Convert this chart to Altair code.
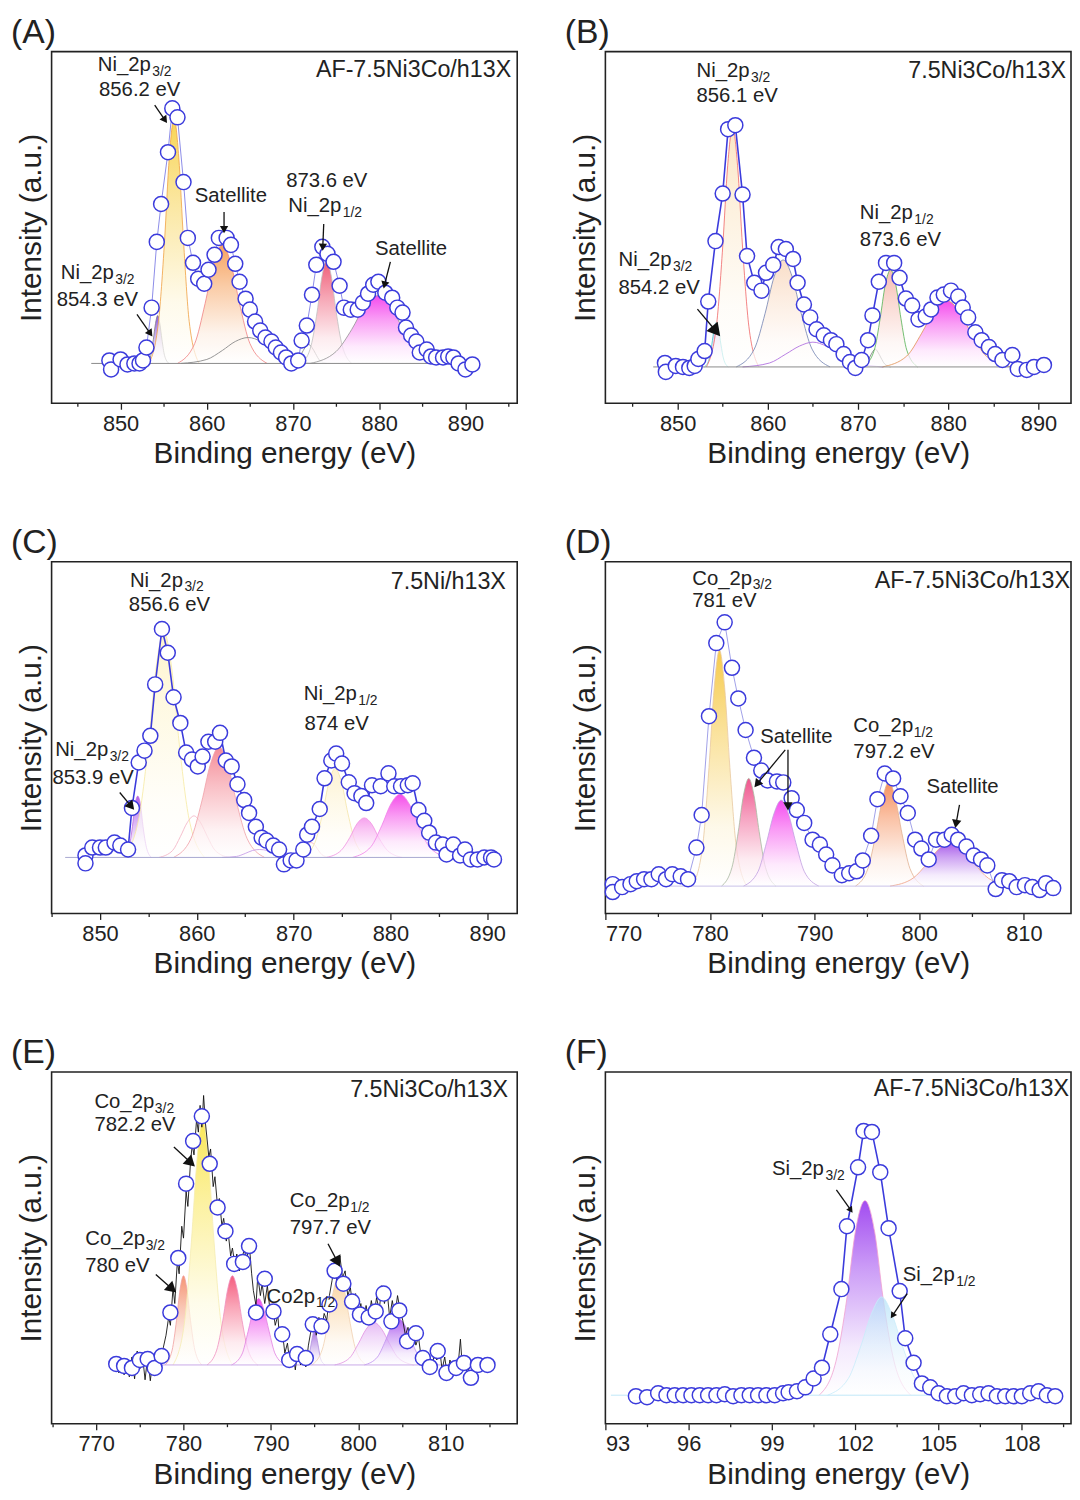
import altair as alt
import pandas as pd

FONT = "Liberation Sans"
BLUE = "#3b3bdc"

# ---------------- Panel A : AF-7.5Ni3Co/h13X, Ni 2p ----------------
A_x = [848.7, 848.9, 850.0, 850.8, 851.6, 852.2, 852.6, 853.0, 853.6, 854.2, 854.7, 855.5, 856.0, 856.6,
       857.3, 857.8, 858.4, 859.0, 859.7, 860.2, 860.9, 861.4, 862.3, 862.8, 863.3, 863.8, 864.5, 865.0,
       865.6, 866.2, 866.8, 867.5, 868.0, 868.6, 869.2, 869.8, 870.6, 871.0, 871.6, 872.2, 872.7, 873.4,
       874.0, 874.7, 875.4, 875.9, 876.7, 877.5, 878.1, 878.7, 879.3, 879.9, 880.7, 881.5, 882.1, 882.7,
       883.1, 883.7, 884.3, 884.7, 885.5, 886.0, 886.6, 887.4, 888.0, 888.6, 889.2, 890.0, 890.8]
A_y = [3, -6, 4, -1, 0, 0, 3, 16, 56, 122, 160, 212, 256, 247, 182, 126, 101, 85, 80, 94, 109, 126, 126,
       119, 100, 82, 65, 54, 42, 33, 26, 22, 16, 11, 6, 0, 3, 23, 38, 69, 99, 117, 110, 102, 78, 56, 54, 54,
       61, 70, 79, 82, 71, 66, 56, 51, 36, 28, 22, 11, 14, 7, 6, 6, 7, 6, 0, -6, -1]
A_peaks = [
    ([853.0, 853.5, 853.8, 854.05, 854.3, 854.55, 854.8, 855.1, 855.6], [0, 8, 24, 40, 48, 40, 24, 8, 0], "#5b0fd6", "#808080"),
    ([853.3, 854.4, 855.1, 855.65, 856.2, 856.75, 857.3, 857.96, 859.1], [0, 42, 123, 207, 246, 207, 123, 42, 0], "#f4c20d", "#f0a040"),
    ([856.6, 858.6, 859.8, 860.8, 861.8, 862.8, 863.8, 865.0, 867.0], [0, 20, 60, 100, 119, 100, 60, 20, 0], "#f27a1a", "#f08080"),
    ([857.0, 860.0, 861.8, 863.3, 864.8, 866.3, 867.8, 869.6, 872.6], [0, 4, 13, 22, 26, 22, 13, 4, 0], None, "#8a8a8a"),
    ([869.7, 870.5, 871.0, 871.4, 871.8, 872.2, 872.6, 873.1, 873.9], [0, 3, 10, 16, 19, 16, 10, 3, 0], None, "#8a8a8a"),
    ([871.0, 872.1, 872.8, 873.35, 873.9, 874.45, 875.0, 875.7, 876.8], [0, 18, 52, 87, 103, 87, 52, 18, 0], "#e8163c", "#c0c0c0"),
    ([872.0, 875.0, 876.8, 878.3, 879.8, 881.3, 882.8, 884.6, 887.6], [0, 12, 34, 57, 68, 57, 34, 12, 0], "#f000e6", "#909090"),
]
A_ticks = [845, 850, 855, 860, 865, 870, 875, 880, 885, 890, 895]
A_labels = [(847.35, 299.3, "Ni_2p", "3/2"), (847.5, 274.3, "856.2 eV", None), (858.6, 168.3, "Satellite", None),
            (869.2, 182.7, "873.6 eV", None), (869.45, 157.7, "Ni_2p", "1/2"), (879.5, 114.3, "Satellite", None),
            (843.07, 91.0, "Ni_2p", "3/2"), (842.6, 63.3, "854.3 eV", None)]
A_arrows = [(853.96, 259.3, 855.15, 244.3, 145), (851.9, 49.3, 853.45, 30.0, 145), (862.0, 152.0, 862.0, 134.3, 180),
            (873.56, 140.0, 873.45, 116.7, 182), (881.29, 102.0, 880.61, 78.7, 194)]

# ---------------- Panel B : 7.5Ni3Co/h13X, Ni 2p ----------------
B_x = [848.6, 848.7, 849.8, 850.6, 851.3, 851.9, 852.3, 853.0, 853.4, 854.2, 855.0, 855.6, 856.4, 857.2,
       857.7, 858.5, 859.3, 859.8, 860.6, 861.2, 862.0, 862.8, 863.3, 864.0, 864.7, 865.4, 866.2, 867.0,
       867.6, 868.4, 869.1, 869.7, 870.4, 871.1, 871.6, 872.3, 873.1, 874.0, 874.6, 875.3, 876.0, 876.7,
       877.5, 878.1, 878.8, 879.5, 880.3, 881.1, 881.6, 882.2, 883.0, 883.7, 884.5, 885.2, 886.0, 887.1,
       887.7, 888.7, 889.5, 890.6]
B_y = [4, -5, 1, 0, -1, 1, 8, 16, 66, 127, 175, 240, 244, 174, 112, 85, 77, 95, 103, 121, 119, 109, 85, 63,
       50, 38, 32, 27, 23, 13, 5, -1, 7, 27, 52, 86, 105, 105, 90, 69, 62, 48, 51, 58, 70, 73, 77, 71, 60, 50,
       35, 27, 20, 13, 7, 12, -2, -3, 0, 2]
B_peaks = [
    ([853.0, 853.5, 853.8, 854.05, 854.3, 854.55, 854.8, 855.1, 855.6], [0, 8, 23, 38, 45, 38, 23, 8, 0], "#b58ae8", "#40c8c8"),
    ([853.2, 854.3, 855.0, 855.55, 856.1, 856.65, 857.2, 857.9, 859.0], [0, 41, 121, 203, 242, 203, 121, 41, 0], "#f9dcae", "#f06464"),
    ([856.5, 858.5, 859.7, 860.7, 861.7, 862.7, 863.7, 864.9, 866.9], [0, 18, 54, 91, 108, 91, 54, 18, 0], "#f7d0b0", "#7080b0"),
    ([857.2, 860.2, 862.0, 863.5, 865.0, 866.5, 868.0, 869.8, 872.8], [0, 4, 13, 21, 25, 21, 13, 4, 0], None, "#b070e0"),
    ([870.2, 870.9, 871.25, 871.6, 871.9, 872.2, 872.55, 872.95, 873.6], [0, 3, 9, 15, 18, 15, 9, 3, 0], None, "#808080"),
    ([870.6, 871.8, 872.45, 873.0, 873.6, 874.2, 874.75, 875.4, 876.6], [0, 17, 49, 82, 98, 82, 49, 17, 0], "#f2a090", "#50b050"),
    ([872.7, 875.4, 877.05, 878.4, 879.8, 881.2, 882.55, 884.2, 887.0], [0, 11, 34, 56, 67, 56, 34, 11, 0], "#f000e6", "#e09050"),
]
B_ticks = [845, 850, 855, 860, 865, 870, 875, 880, 885, 890]
B_labels = [(852.1, 298.3, "Ni_2p", "3/2"), (852.1, 273.3, "856.1 eV", None), (870.2, 155.0, "Ni_2p", "1/2"),
            (870.2, 128.3, "873.6 eV", None), (843.45, 108.3, "Ni_2p", "3/2"), (843.45, 80.0, "854.2 eV", None)]
B_arrows = [(852.2, 58.3, 854.27, 36.0, 140)]

# ---------------- Panel C : 7.5Ni/h13X, Ni 2p ----------------
C_x = [848.5, 848.5, 849.2, 850.0, 850.6, 851.5, 852.1, 852.9, 853.3, 854.0, 854.6, 855.2, 855.7, 856.4,
       857.0, 857.6, 858.3, 858.9, 859.5, 860.1, 860.6, 861.2, 861.9, 862.4, 863.0, 863.6, 864.2, 864.9,
       865.4, 866.1, 866.7, 867.2, 867.9, 868.5, 869.0, 869.7, 870.3, 871.0, 871.4, 871.9, 872.7, 873.2,
       873.9, 874.4, 875.0, 875.7, 876.3, 877.0, 877.5, 878.1, 879.0, 879.8, 880.4, 881.1, 881.8, 882.3,
       882.9, 883.5, 884.0, 884.7, 885.4, 885.8, 886.5, 887.2, 887.7, 888.3, 889.0, 889.7, 890.4, 890.7]
C_y = [2, -6, 10, 10, 10, 15, 12, 8, 50, 96, 108, 123, 175, 231, 207, 162, 136, 106, 99, 92, 102, 117, 117,
       126, 98, 92, 74, 58, 45, 31, 20, 17, 12, 8, -7, -3, -3, 8, 23, 31, 49, 80, 98, 105, 95, 76, 65, 62, 55,
       73, 72, 85, 72, 72, 73, 75, 48, 37, 25, 15, 13, 3, 13, 2, 8, -2, -2, 0, 0, -2]
C_peaks = [
    ([852.5, 853.0, 853.35, 853.6, 853.9, 854.2, 854.45, 854.8, 855.3], [0, 10, 31, 52, 62, 52, 31, 10, 0], "#8e1be0", "#c070e0"),
    ([852.4, 854.0, 855.0, 855.8, 856.6, 857.4, 858.2, 859.2, 860.8], [0, 39, 114, 192, 228, 192, 114, 39, 0], "#fdf0b8", "#f6eaa0"),
    ([856.1, 857.5, 858.3, 859.0, 859.7, 860.4, 861.1, 861.9, 863.3], [0, 7, 21, 35, 42, 35, 21, 7, 0], None, "#f4b8c8"),
    ([857.6, 859.4, 860.5, 861.4, 862.3, 863.2, 864.1, 865.2, 867.0], [0, 19, 56, 94, 112, 94, 56, 19, 0], "#f05a6a", "#f0a0a8"),
    ([862.6, 864.1, 865.0, 865.75, 866.5, 867.25, 868.0, 868.9, 870.4], [0, 1, 4, 7, 8, 7, 4, 1, 0], None, "#c8a0e8"),
    ([870.0, 870.7, 871.1, 871.45, 871.8, 872.15, 872.5, 872.9, 873.6], [0, 3, 8, 13, 15, 13, 8, 3, 0], None, "#f4b0c8"),
    ([870.9, 872.2, 873.0, 873.65, 874.3, 874.95, 875.6, 876.4, 877.7], [0, 15, 45, 76, 90, 76, 45, 15, 0], "#fdeec0", "#f4e4a8"),
    ([873.4, 874.9, 875.8, 876.55, 877.3, 878.05, 878.8, 879.7, 881.2], [0, 7, 20, 34, 40, 34, 20, 7, 0], "#f27ae6", "#f090e0"),
    ([876.1, 878.0, 879.1, 880.05, 881.0, 881.95, 882.9, 884.0, 885.9], [0, 11, 32, 54, 64, 54, 32, 11, 0], "#f000e0", "#f080e8"),
]
C_ticks = [845, 850, 855, 860, 865, 870, 875, 880, 885, 890]
C_labels = [(853.09, 280.0, "Ni_2p", "3/2"), (852.98, 255.0, "856.6 eV", None), (871.05, 165.0, "Ni_2p", "1/2"),
            (871.12, 135.0, "874 eV", None), (845.37, 108.3, "Ni_2p", "3/2"), (845.09, 80.0, "853.9 eV", None)]
C_arrows = [(852.04, 65.7, 853.23, 51.7, 140)]

# ---------------- Panel D : AF-7.5Ni3Co/h13X, Co 2p ----------------
D_x = [770.7, 770.7, 771.6, 772.4, 773.0, 773.7, 774.4, 775.1, 775.8, 776.4, 777.2, 777.9, 778.7, 779.2,
       779.9, 780.6, 781.4, 782.1, 782.7, 783.4, 784.2, 784.9, 785.5, 786.4, 787.0, 787.8, 788.3, 789.0,
       789.8, 790.5, 791.1, 791.7, 792.6, 793.3, 794.0, 794.6, 795.4, 796.0, 796.7, 797.5, 798.2, 798.9,
       799.6, 800.2, 800.9, 801.6, 802.4, 803.1, 803.7, 804.5, 805.2, 805.9, 806.5, 807.3, 807.9, 808.6,
       809.3, 810.1, 810.8, 811.5, 812.1, 812.8]
D_y = [2, -6, -1, 2, 5, 7, 7, 12, 7, 12, 10, 7, 39, 72, 172, 246, 267, 221, 190, 158, 130, 117, 107, 106,
       105, 89, 77, 64, 47, 42, 32, 21, 11, 13, 15, 26, 51, 88, 114, 109, 91, 74, 47, 38, 27, 47, 47, 52, 47,
       40, 31, 27, 21, -3, 6, 5, -1, 1, -1, -4, 3, -2]
D_peaks = [
    ([778.3, 779.3, 779.9, 780.4, 780.9, 781.4, 781.9, 782.5, 783.5], [0, 41, 120, 201, 239, 201, 120, 41, 0], "#f2b400", "#e8c8a0"),
    ([781.1, 782.1, 782.7, 783.2, 783.7, 784.2, 784.7, 785.3, 786.3], [0, 19, 55, 92, 109, 92, 55, 19, 0], "#e80c5c", "#a8b8a0"),
    ([783.2, 784.6, 785.4, 786.1, 786.8, 787.5, 788.2, 789.0, 790.4], [0, 15, 44, 73, 87, 73, 44, 15, 0], "#f000e8", "#c0a0e0"),
    ([793.9, 795.1, 795.85, 796.5, 797.1, 797.7, 798.35, 799.1, 800.4], [0, 18, 53, 89, 106, 89, 53, 18, 0], "#f26018", "#e0b090"),
    ([797.2, 799.4, 800.75, 801.9, 803.0, 804.1, 805.25, 806.6, 808.9], [0, 8, 23, 38, 45, 38, 23, 8, 0], "#8010e0", "#f0a080"),
]
D_ticks = [770, 775, 780, 785, 790, 795, 800, 805, 810]
D_labels = [(778.3, 311.3, "Co_2p", "3/2"), (778.3, 289.0, "781 eV", None), (784.8, 151.3, "Satellite", None),
            (793.7, 162.3, "Co_2p", "1/2"), (793.7, 135.7, "797.2 eV", None), (800.68, 100.7, "Satellite", None)]
D_arrows = [(787.19, 138.0, 784.49, 103.3, 219), (787.45, 138.0, 787.45, 80.7, 180), (803.84, 82.3, 803.51, 63.0, 190)]

# ---------------- Panel E : 7.5Ni3Co/h13X, Co 2p ----------------
E_x = [772.3, 773.2, 774.1, 775.0, 775.9, 776.7, 777.5, 778.5, 779.4, 780.3, 781.1, 782.1, 783.0, 783.9,
       784.8, 785.8, 786.8, 787.5, 788.3, 789.3, 790.3, 791.3, 792.1, 793.0, 794.0, 794.8, 795.8, 796.7,
       797.3, 798.3, 799.3, 800.2, 801.2, 802.0, 802.9, 803.8, 804.7, 805.6, 806.6, 807.4, 808.2, 809.1,
       810.1, 811.2, 812.1, 812.9, 813.7, 814.8]
E_y = [1, -1, -3, 5, 6, -3, 9, 53, 108, 183, 226, 251, 203, 159, 135, 102, 104, 120, 53, 87, 54, 31, 5, 11,
       7, 41, 39, 61, 95, 82, 64, 51, 48, 54, 72, 44, 55, 24, 32, 7, -2, 14, -8, -3, 2, -13, 0, 0]
E_raw_x = [772.3, 772.6, 772.9, 773.2, 773.5, 773.8, 774.1, 774.4, 774.7, 775.0,
           775.3, 775.6, 775.9, 776.2, 776.5, 776.8, 777.1, 777.4, 777.7, 778.0,
           778.3, 778.5, 778.8, 779.0, 779.3, 779.5, 779.8, 780.0, 780.3, 780.5,
           780.8, 781.0, 781.2, 781.5, 781.7, 781.9, 782.1, 782.3, 782.5, 782.7,
           782.9, 783.1, 783.4, 783.6, 783.9, 784.1, 784.4, 784.6, 784.9, 785.1,
           785.4, 785.6, 785.9, 786.1, 786.4, 786.7, 787.0, 787.2, 787.5, 787.8,
           788.0, 788.3, 788.5, 788.8, 789.0, 789.3, 789.6, 789.9, 790.2, 790.5,
           790.8, 791.0, 791.3, 791.6, 791.9, 792.2, 792.5, 792.8, 793.1, 793.4,
           793.7, 794.0, 794.3, 794.6, 794.9, 795.2, 795.5, 795.8, 796.1, 796.4,
           796.7, 797.0, 797.3, 797.6, 797.9, 798.2, 798.5, 798.8, 799.1, 799.4,
           799.7, 800.0, 800.3, 800.6, 800.9, 801.2, 801.5, 801.8, 802.1, 802.4,
           802.7, 803.0, 803.3, 803.6, 803.9, 804.2, 804.5, 804.8, 805.1, 805.4,
           805.7, 806.0, 806.3, 806.6, 806.9, 807.2, 807.5, 807.8, 808.1, 808.4,
           808.7, 809.0, 809.3, 809.6, 809.9, 810.2, 810.5, 810.8, 811.1, 811.4,
           811.7, 811.9, 812.2, 812.5, 812.8, 813.1, 813.4, 813.7, 814.0, 814.3,
           814.6, 814.9]
E_raw_y = [2, -8, 6, -10, 3, -12, 8, -14, 14, -4,
           10, -15, 9, -16, 5, -10, 12, 2, 18, 30,
           48, 40, 78, 62, 105, 92, 140, 128, 175, 160,
           205, 222, 212, 248, 235, 262, 240, 272, 245, 228,
           210, 218, 180, 190, 160, 168, 140, 148, 125, 135,
           110, 118, 100, 112, 95, 108, 118, 100, 125, 92,
           75, 60, 90, 70, 82, 62, 80, 55, 60, 40,
           50, 25, 35, 12, 22, 0, 15, -5, 18, 0,
           12, -2, 20, 35, 45, 30, 48, 35, 52, 45,
           70, 85, 100, 82, 110, 88, 95, 70, 78, 58,
           72, 48, 62, 42, 60, 45, 65, 50, 68, 55,
           80, 62, 75, 48, 65, 50, 70, 55, 45, 30,
           38, 22, 35, 20, 28, 8, 15, -3, 10, -8,
           12, 5, 18, -5, 8, -10, 5, -6, 4, -4,
           26, 0, 6, -12, 4, -6, 5, -2, 6, -4,
           2, 0]
E_peaks = [
    ([777.9, 778.7, 779.2, 779.6, 780.0, 780.4, 780.8, 781.3, 782.1], [0, 15, 45, 76, 90, 76, 45, 15, 0], "#f06838", "#f0a0a0"),
    ([778.8, 780.1, 780.9, 781.55, 782.2, 782.85, 783.5, 784.3, 785.6], [0, 42, 124, 208, 248, 208, 124, 42, 0], "#f7dc10", "#f5ecb0"),
    ([782.7, 783.8, 784.5, 785.05, 785.6, 786.15, 786.7, 787.4, 788.5], [0, 15, 45, 76, 90, 76, 45, 15, 0], "#f01848", "#f090c0"),
    ([785.5, 786.7, 787.4, 788.0, 788.6, 789.2, 789.8, 790.5, 791.7], [0, 11, 34, 56, 67, 56, 34, 11, 0], "#e600e6", "#e080e0"),
    ([793.8, 794.3, 794.55, 794.8, 795.0, 795.2, 795.45, 795.7, 796.2], [0, 6, 18, 30, 36, 30, 18, 6, 0], "#7a2ad0", "#b090e0"),
    ([794.7, 795.9, 796.6, 797.2, 797.8, 798.4, 799.0, 799.7, 800.9], [0, 16, 46, 76, 91, 76, 46, 16, 0], "#f8be70", "#f0d0b0"),
    ([797.3, 799.0, 800.05, 800.9, 801.8, 802.7, 803.55, 804.6, 806.35], [0, 7, 22, 36, 43, 36, 22, 7, 0], "#dca0f0", "#e090e0"),
    ([800.7, 802.2, 803.1, 803.85, 804.6, 805.35, 806.1, 807.0, 808.5], [0, 8, 24, 40, 47, 40, 24, 8, 0], "#8a18e8", "#c090f0"),
]
E_ticks = [765, 770, 775, 780, 785, 790, 795, 800, 805, 810, 815]
E_labels = [(769.8, 265.7, "Co_2p", "3/2"), (769.8, 242.3, "782.2 eV", None), (768.75, 127.3, "Co_2p", "3/2"),
            (768.75, 100.0, "780 eV", None), (792.17, 165.7, "Co_2p", "1/2"), (792.17, 138.0, "797.7 eV", None),
            (789.5, 69.0, "Co2p", "1/2")]
E_arrows = [(778.9, 220.0, 780.85, 204.0, 133), (776.83, 91.3, 778.7, 76.7, 132), (796.54, 122.3, 797.63, 104.0, 152)]

# ---------------- Panel F : AF-7.5Ni3Co/h13X, Si 2p ----------------
F_x = [94.1, 94.5, 94.9, 95.2, 95.5, 95.8, 96.1, 96.4, 96.7, 97.0, 97.3, 97.6, 97.9, 98.2, 98.5, 98.8, 99.1,
       99.4, 99.6, 99.9, 100.2, 100.5, 100.8, 101.1, 101.5, 101.7, 102.1, 102.3, 102.6, 102.9, 103.2, 103.6,
       103.8, 104.1, 104.4, 104.7, 105.0, 105.3, 105.6, 105.9, 106.2, 106.5, 106.8, 107.1, 107.4, 107.7,
       108.0, 108.3, 108.6, 108.9, 109.2]
F_y = [-1, -2, 2, 0, 0, 0, 0, 0, 0, 0, 1, -1, 0, 0, 0, 0, 0, 2, 3, 4, 8, 17, 28, 62, 108, 172, 232, 269, 268,
       227, 170, 106, 58, 33, 12, 8, 2, -1, -1, 2, 0, 1, 2, -1, -1, -1, -1, 2, 4, 0, -1]
F_peaks = [
    ([100.7, 101.3, 101.7, 102.0, 102.35, 102.7, 103.0, 103.4, 104.0], [0, 34, 99, 166, 198, 166, 99, 34, 0], "#7a00ea", "#f0a0d0"),
    ([101.0, 101.75, 102.2, 102.6, 102.95, 103.3, 103.7, 104.15, 104.9], [0, 17, 50, 84, 100, 84, 50, 17, 0], "#b0e0f8", "#c8ecfa"),
]
F_ticks = [93, 94.5, 96, 97.5, 99, 100.5, 102, 103.5, 105, 106.5, 108, 109.5]
F_labels = [(99.0, 230.0, "Si_2p", "3/2"), (103.71, 122.3, "Si_2p", "1/2")]
F_arrows = [(101.32, 209.0, 101.84, 188.3, 145), (103.87, 103.3, 103.34, 81.0, 214)]

PANELS = [
    dict(tag="(A)", sample="AF-7.5Ni3Co/h13X", spos=(895.3, 294.3), xdom=[842, 896], ydom=[-40, 313],
         ticks=A_ticks, major=10, cx=A_x, cy=A_y, peaks=A_peaks, base=[846.6, 891.4], basec="#8a8a8a",
         env=("#8c8ce8", 1.0), labels=A_labels, arrows=A_arrows, head=70),
    dict(tag="(B)", sample="7.5Ni3Co/h13X", spos=(893.05, 298.3), xdom=[842, 893.6], ydom=[-36.7, 318.3],
         ticks=B_ticks, major=10, cx=B_x, cy=B_y, peaks=B_peaks, base=[847.3, 890.7], basec="#8a8a8a",
         env=(BLUE, 1.6), labels=B_labels, arrows=B_arrows, head=220),
    dict(tag="(C)", sample="7.5Ni/h13X", spos=(891.93, 278.3), xdom=[845, 893.1], ydom=[-56.7, 299],
         ticks=C_ticks, major=10, cx=C_x, cy=C_y, peaks=C_peaks, base=[846.4, 890.7], basec="#a8a8d0",
         env=(BLUE, 1.6), labels=C_labels, arrows=C_arrows, head=110),
    dict(tag="(D)", sample="AF-7.5Ni3Co/h13X", spos=(814.4, 309.0), xdom=[770, 814.5], ydom=[-27.7, 328.3],
         ticks=D_ticks, major=10, cx=D_x, cy=D_y, peaks=D_peaks, base=[776.0, 808.0], basec="#c8c0e8",
         env=("#a0a0e8", 1.0), labels=D_labels, arrows=D_arrows, head=90),
    dict(tag="(E)", sample="7.5Ni3Co/h13X", spos=(817.14, 277.3), xdom=[764.9, 818.2], ydom=[-59.3, 295.7],
         ticks=E_ticks, major=10, cx=E_x, cy=E_y, peaks=E_peaks, base=[772.0, 815.0], basec="#c8a8e8",
         env=None, raw=(E_raw_x, E_raw_y), labels=E_labels, arrows=E_arrows, head=160),
    dict(tag="(F)", sample="AF-7.5Ni3Co/h13X", spos=(109.7, 311.7), xdom=[93, 109.77], ydom=[-29, 329],
         ticks=F_ticks, major=3, cx=F_x, cy=F_y, peaks=F_peaks, base=[93.2, 109.0], basec="#c0e8f8",
         env=(BLUE, 1.6), labels=F_labels, arrows=F_arrows, head=50),
]

SUB_DX = {"Ni_2p": 55, "Co_2p": 61, "Si_2p": 54, "Co2p": 50}


def mix(c, t):
    r, g, b = int(c[1:3], 16), int(c[3:5], 16), int(c[5:7], 16)
    return "#%02x%02x%02x" % (round(r * t + 255 * (1 - t)), round(g * t + 255 * (1 - t)), round(b * t + 255 * (1 - t)))


def grad(c):
    return {"gradient": "linear", "x1": 0, "y1": 0, "x2": 0, "y2": 1,
            "stops": [{"offset": 0, "color": c}, {"offset": 0.35, "color": mix(c, 0.55)},
                      {"offset": 0.75, "color": mix(c, 0.12)}, {"offset": 1, "color": "#ffffff"}]}


def panel(p):
    test = "datum.value %% %d === 0" % p["major"]
    X = alt.X("eV:Q", scale=alt.Scale(domain=p["xdom"], nice=False, zero=False),
              axis=alt.Axis(title="Binding energy (eV)", values=p["ticks"],
                            labelExpr="%s ? datum.label : ''" % test,
                            tickSize={"condition": {"test": test, "value": 6}, "value": 3},
                            tickWidth=1.3, domain=False, grid=False,
                            labelPadding=4, titlePadding=5))
    Y = alt.Y("I:Q", scale=alt.Scale(domain=p["ydom"], nice=False, zero=False),
              axis=alt.Axis(title="Intensity (a.u.)", labels=False, ticks=False, domain=False,
                            grid=False, titlePadding=5))
    layers = []
    for xs, ys, fill, stroke in p["peaks"]:
        d = pd.DataFrame({"eV": xs, "I": ys})
        if fill:
            layers.append(alt.Chart(d).mark_area(color=grad(fill), interpolate="monotone",
                                                 line={"color": stroke, "strokeWidth": 0.8})
                          .encode(x=X, y=Y, y2=alt.datum(0)))
        else:
            layers.append(alt.Chart(d).mark_line(color=stroke, strokeWidth=0.9, interpolate="monotone")
                          .encode(x=X, y=Y))
    bd = pd.DataFrame({"eV": p["base"], "I": [0, 0]})
    layers.append(alt.Chart(bd).mark_line(color=p["basec"], strokeWidth=1).encode(x=X, y=Y))
    cd = pd.DataFrame({"eV": p["cx"], "I": p["cy"]})
    if p.get("raw"):
        rd = pd.DataFrame({"eV": p["raw"][0], "I": p["raw"][1]})
        layers.append(alt.Chart(rd).mark_line(color="#111111", strokeWidth=0.9).encode(x=X, y=Y))
    if p["env"]:
        layers.append(alt.Chart(cd).mark_line(color=p["env"][0], strokeWidth=p["env"][1]).encode(x=X, y=Y))
    layers.append(alt.Chart(cd).mark_point(shape="circle", filled=True, fill="white", stroke=BLUE,
                                           strokeWidth=1.5, size=230, opacity=1).encode(x=X, y=Y))
    ad = pd.DataFrame(p["arrows"], columns=["eV", "I", "eV2", "I2", "ang"])
    layers.append(alt.Chart(ad).mark_rule(color="#111111", strokeWidth=1.3)
                  .encode(x=X, y=Y, x2="eV2:Q", y2="I2:Q"))
    hd = pd.DataFrame({"eV": ad["eV2"], "I": ad["I2"], "ang": ad["ang"]})
    layers.append(alt.Chart(hd).mark_point(shape="triangle-up", filled=True, color="#111111",
                                           size=p["head"], opacity=1)
                  .encode(x=X, y=Y, angle=alt.Angle("ang:Q", scale=None)))
    ld = pd.DataFrame([(a, b, c) for a, b, c, s in p["labels"]], columns=["eV", "I", "t"])
    layers.append(alt.Chart(ld).mark_text(align="left", baseline="middle", font=FONT, fontSize=20.5,
                                          color="#222222").encode(x=X, y=Y, text="t:N"))
    for pre, dx in SUB_DX.items():
        rows = [(a, b, s) for a, b, c, s in p["labels"] if s and c == pre]
        if rows:
            sd = pd.DataFrame(rows, columns=["eV", "I", "t"])
            layers.append(alt.Chart(sd).mark_text(align="left", baseline="middle", font=FONT, fontSize=14,
                                                  dx=dx, dy=7, color="#222222").encode(x=X, y=Y, text="t:N"))
    smp = pd.DataFrame({"eV": [p["spos"][0]], "I": [p["spos"][1]], "t": [p["sample"]]})
    layers.append(alt.Chart(smp).mark_text(align="right", baseline="middle", font=FONT, fontSize=23.5,
                                           color="#222222").encode(x=X, y=Y, text="t:N"))
    return alt.layer(*layers).properties(
        width=470, height=355,
        title=alt.TitleParams(text=p["tag"], anchor="start", frame="bounds", fontSize=34,
                              fontWeight="normal", font=FONT, color="#222222", offset=2, dx=-6))


charts = [panel(p) for p in PANELS]
chart = alt.vconcat(
    alt.hconcat(charts[0], charts[1], spacing=46),
    alt.hconcat(charts[2], charts[3], spacing=46),
    alt.hconcat(charts[4], charts[5], spacing=46),
    spacing=56,
).properties(
    padding={"left": 2, "top": 0, "right": 0, "bottom": 0}, background="white"
).configure_view(
    stroke="#222222", strokeWidth=1.6
).configure_axis(
    labelFont=FONT, titleFont=FONT, labelFontSize=22, titleFontSize=30, titleFontWeight="normal",
    labelColor="#222222", titleColor="#222222", tickColor="#222222"
)

chart.save("out.html", embed_options={"renderer": "svg", "actions": False})
